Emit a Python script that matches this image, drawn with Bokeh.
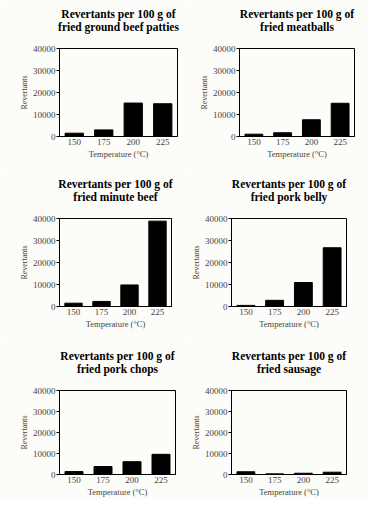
from bokeh.plotting import figure
from bokeh.models import Title, FactorRange, Range1d, FixedTicker, BasicTickFormatter
from bokeh.layouts import column, row
from bokeh.embed import file_html
from bokeh.resources import INLINE

# ---- data ----
temperatures = ["150", "175", "200", "225"]
title_line1 = "Revertants per 100 g of"
foods = ["fried ground beef patties", "fried meatballs", "fried minute beef",
         "fried pork belly", "fried pork chops", "fried sausage"]
ground_beef_patties = [1500, 3000, 15200, 14900]
meatballs = [1050, 1700, 7600, 15100]
minute_beef = [1500, 2300, 9800, 38800]
pork_belly = [500, 2800, 10900, 26700]
pork_chops = [1400, 3800, 6100, 9600]
sausage = [1300, 300, 600, 1100]
y_min, y_max = 0, 40000
y_ticks = [0, 10000, 20000, 30000, 40000]
y_label = "Revertants"
x_label = "Temperature (°C)"

series = [ground_beef_patties, meatballs, minute_beef, pork_belly, pork_chops, sausage]

# ---- layout (borders: left, right, top, bottom; figure width, height) ----
panel_layout = [
    (59, 11, 48, 34, 188, 170),
    (51, 14, 48, 34, 180, 170),
    (59, 17, 48, 36, 188, 172),
    (42, 22, 48, 36, 180, 172),
    (59, 13, 48, 22, 188, 157),
    (43, 22, 48, 22, 180, 157),
]

BG = "#fcfcf8"
SERIF = "Liberation Serif"


def make_panel(food, values, lay):
    bl, br, bt, bb, w, h = lay
    p = figure(x_range=FactorRange(*temperatures), y_range=Range1d(y_min, y_max),
               width=w, height=h, title=None, output_backend="svg",
               toolbar_location=None,
               min_border_left=bl, min_border_right=br,
               min_border_top=bt, min_border_bottom=bb)
    p.background_fill_color = BG
    p.border_fill_color = BG
    p.outline_line_color = "black"
    p.outline_line_width = 1
    p.outline_line_alpha = 1
    p.xgrid.visible = False
    p.ygrid.visible = False

    p.add_layout(Title(text=food, align="center", text_font=SERIF,
                       text_font_size="11.5px", text_font_style="bold",
                       text_color="black", standoff=32), "above")
    p.add_layout(Title(text=title_line1, align="center", text_font=SERIF,
                       text_font_size="11.5px", text_font_style="bold",
                       text_color="black", standoff=-35), "above")

    p.vbar(x=temperatures, top=values, width=0.62, bottom=0,
           fill_color="black", line_color="black")

    xa = p.xaxis[0]
    xa.axis_label = x_label
    xa.axis_label_text_font = SERIF
    xa.axis_label_text_font_size = "8.5px"
    xa.axis_label_text_font_style = "normal"
    xa.axis_label_standoff = 1
    xa.major_label_text_font = SERIF
    xa.major_label_text_font_size = "9px"
    xa.major_label_standoff = 2
    xa.major_tick_out = 0
    xa.major_tick_in = 0
    xa.axis_line_color = "black"

    ya = p.yaxis[0]
    ya.ticker = FixedTicker(ticks=y_ticks)
    ya.formatter = BasicTickFormatter(use_scientific=False)
    ya.axis_label = y_label
    ya.axis_label_text_font = SERIF
    ya.axis_label_text_font_size = "8px"
    ya.axis_label_text_font_style = "normal"
    ya.axis_label_standoff = 1
    ya.major_label_text_font = SERIF
    ya.major_label_text_font_size = "9px"
    ya.major_label_standoff = 1
    ya.major_tick_out = 3
    ya.major_tick_in = 0
    ya.minor_tick_out = 0
    ya.minor_tick_in = 0
    ya.axis_line_color = "black"
    return p


panels = [make_panel(f, v, l) for f, v, l in zip(foods, series, panel_layout)]

layout = column(row(panels[0], panels[1], spacing=0),
                row(panels[2], panels[3], spacing=0),
                row(panels[4], panels[5], spacing=0), spacing=0)

open("out.html", "w").write(file_html(layout, INLINE))
